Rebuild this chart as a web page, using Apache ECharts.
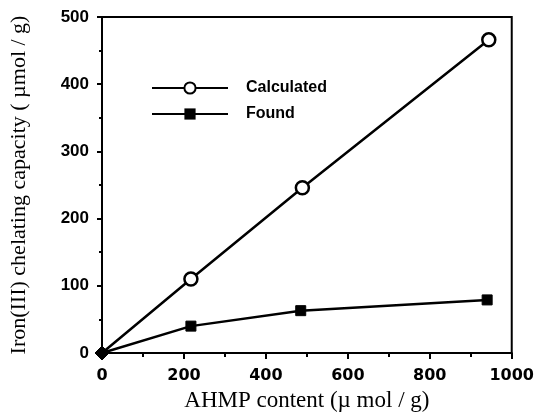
<!DOCTYPE html>
<html>
<head>
<meta charset="utf-8">
<title>Iron(III) chelating capacity</title>
<script src="https://cdn.jsdelivr.net/npm/echarts@6/dist/echarts.min.js"></script>
<style>
    html, body { margin: 0; padding: 0; background: #fff; }
    #chart { width: 537px; height: 417px; }
</style>
</head>
<body>
<div id="chart"></div>
<script>
// AHMP content (µmol/g)
var calcX = [0, 217, 489, 944];
var calcY = [0, 110, 246, 466];
var foundX = [0, 217, 485, 940];
var foundY = [0, 40, 63, 79];

var seriesNames = ['Calculated', 'Found'];

function pairs(xs, ys) {
    return xs.map(function (x, i) {
        return [x, ys[i]];
    });
}

var chart = echarts.init(document.getElementById('chart'));

function plain(v) {
    return String(v);
}

// origin point is drawn as a diamond in the original
var calcData = pairs(calcX, calcY);
calcData[0] = { value: calcData[0], symbol: 'none' };
var foundData = pairs(foundX, foundY);
foundData[0] = { value: foundData[0], symbol: 'diamond', symbolSize: 14 };

chart.setOption({
    animation: false,
    grid: {
        left: 101,
        right: 24,
        top: 17,
        bottom: 63,
        show: true,
        borderColor: '#000',
        borderWidth: 2
    },
    legend: {
        orient: 'vertical',
        left: 146,
        top: 75,
        itemWidth: 76,
        itemHeight: 14,
        itemGap: 10,
        data: seriesNames,
        textStyle: {
            color: '#000',
            fontFamily: 'Liberation Sans',
            fontWeight: 'bold',
            fontSize: 16,
            padding: [0, 0, 0, 13]
        }
    },
    xAxis: {
        type: 'value',
        min: 0,
        max: 1000,
        interval: 200,
        name: 'AHMP content (µ mol / g)',
        nameLocation: 'middle',
        nameGap: 36,
        nameTextStyle: {
            color: '#000',
            fontFamily: 'Liberation Serif',
            fontSize: 23
        },
        axisLine: { lineStyle: { color: '#000', width: 2 } },
        axisTick: { inside: false, length: 6, lineStyle: { color: '#000', width: 2 } },
        minorTick: { show: true, splitNumber: 2, length: 4, lineStyle: { color: '#000', width: 2 } },
        splitLine: { show: false },
        axisLabel: {
            color: '#000',
            fontFamily: 'DejaVu Sans',
            fontWeight: 'bold',
            fontSize: 16,
            margin: 15,
            formatter: plain
        }
    },
    yAxis: {
        type: 'value',
        min: 0,
        max: 500,
        interval: 100,
        name: 'Iron(III) chelating capacity ( µmol / g)',
        nameLocation: 'middle',
        nameGap: 72,
        nameTextStyle: {
            color: '#000',
            fontFamily: 'Liberation Serif',
            fontSize: 22
        },
        axisLine: { lineStyle: { color: '#000', width: 2 } },
        axisTick: { inside: false, length: 5, lineStyle: { color: '#000', width: 2 } },
        minorTick: { show: true, splitNumber: 2, length: 3, lineStyle: { color: '#000', width: 2 } },
        splitLine: { show: false },
        axisLabel: {
            color: '#000',
            fontFamily: 'Liberation Sans',
            fontWeight: 'bold',
            fontSize: 17,
            margin: 13,
            formatter: plain
        }
    },
    series: [
        {
            name: seriesNames[0],
            type: 'line',
            data: calcData,
            symbol: 'circle',
            symbolSize: 13,
            lineStyle: { color: '#000', width: 2.5 },
            itemStyle: { color: '#fff', borderColor: '#000', borderWidth: 2.5 },
            z: 2
        },
        {
            name: seriesNames[1],
            type: 'line',
            data: foundData,
            symbol: 'rect',
            symbolSize: 10,
            lineStyle: { color: '#000', width: 2.5 },
            itemStyle: { color: '#000', borderColor: '#000' },
            z: 3
        }
    ]
});
</script>
</body>
</html>
